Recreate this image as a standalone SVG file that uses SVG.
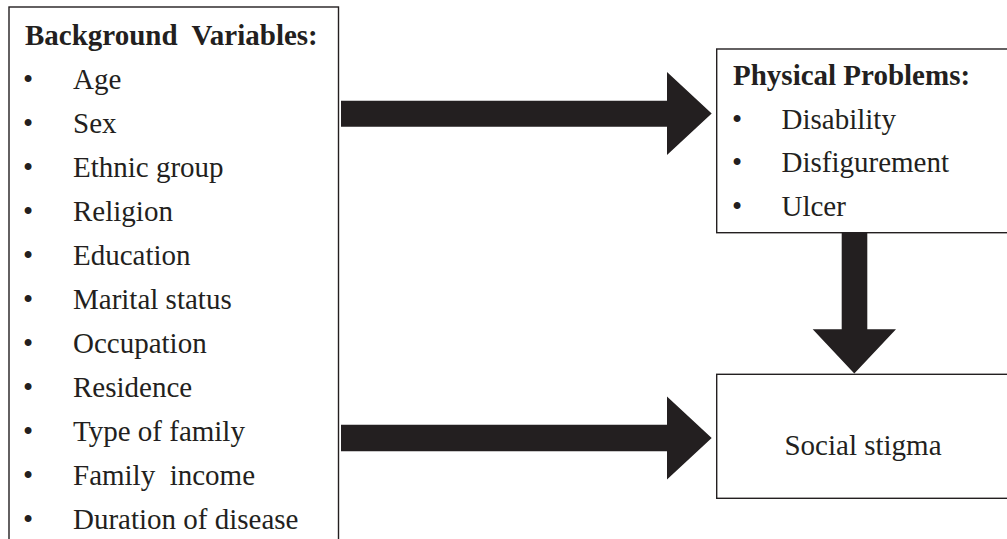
<svg xmlns="http://www.w3.org/2000/svg" width="1007" height="539" viewBox="0 0 1007 539">
<style>
.box{fill:#ffffff;stroke:#231f20;stroke-width:1.4}
.arrow{fill:#231f20;stroke:none}
.t{font-family:"Liberation Serif","Times New Roman",serif;font-size:29px;fill:#231f20}
.b{font-weight:bold}
</style>
<rect x="0" y="0" width="1007" height="539" fill="#ffffff"/>
<g id="background">
<rect class="box" x="9" y="7" width="329.5" height="545"/>
<text class="t b" x="25" y="45" xml:space="preserve">Background  Variables:</text>
<g class="t">
<text x="23" y="89">•</text><text x="73" y="89">Age</text>
<text x="23" y="133">•</text><text x="73" y="133">Sex</text>
<text x="23" y="177">•</text><text x="73" y="177">Ethnic group</text>
<text x="23" y="221">•</text><text x="73" y="221">Religion</text>
<text x="23" y="265">•</text><text x="73" y="265">Education</text>
<text x="23" y="309">•</text><text x="73" y="309">Marital status</text>
<text x="23" y="353">•</text><text x="73" y="353">Occupation</text>
<text x="23" y="397">•</text><text x="73" y="397">Residence</text>
<text x="23" y="441">•</text><text x="73" y="441">Type of family</text>
<text x="23" y="485">•</text><text x="73" y="485" xml:space="preserve">Family  income</text>
<text x="23" y="529">•</text><text x="73" y="529">Duration of disease</text>
</g>
</g>
<g id="physical">
<rect class="box" x="716.7" y="49" width="300" height="183.7"/>
<text class="t b" x="733" y="85">Physical Problems:</text>
<g class="t">
<text x="732" y="129">•</text><text x="781.5" y="129">Disability</text>
<text x="732" y="172">•</text><text x="781.5" y="172">Disfigurement</text>
<text x="732" y="216">•</text><text x="781.5" y="216">Ulcer</text>
</g>
</g>
<g id="stigma">
<rect class="box" x="716.7" y="374.3" width="300" height="124"/>
<text class="t" x="863" y="455" text-anchor="middle">Social stigma</text>
</g>
<g id="connectors">
<polygon class="arrow" points="341,100.7 667,100.7 667,72 711.7,113.5 667,155 667,126.7 341,126.7"/>
<polygon class="arrow" points="341,424.7 667,424.7 667,396.5 711.7,438 667,479.5 667,451.3 341,451.3"/>
<polygon class="arrow" points="841.7,232.7 867.3,232.7 867.3,329.3 896,329.3 854.3,373.5 812.7,329.3 841.7,329.3"/>
</g>
</svg>
